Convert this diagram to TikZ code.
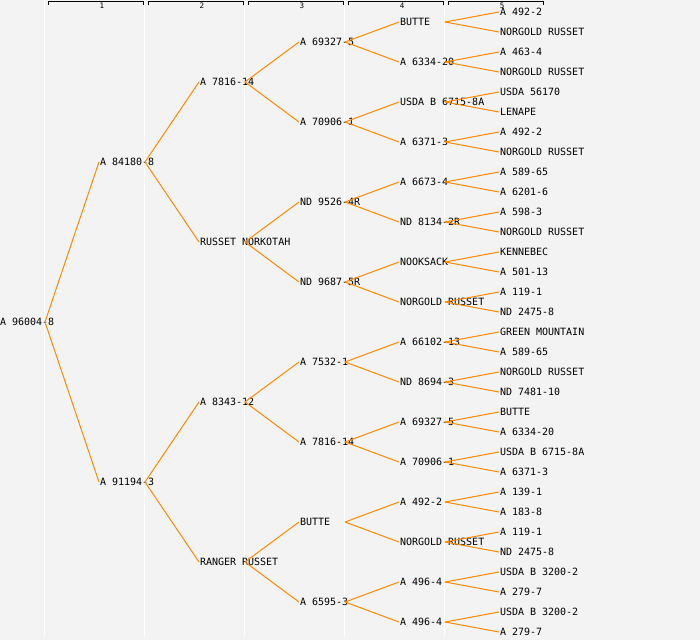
\documentclass[tikz,border=0pt]{standalone}
\usepackage{fontspec}
\newfontfamily\monofnt{DejaVu Sans Mono}
\definecolor{bgc}{RGB}{243,243,243}
\definecolor{linec}{RGB}{255,136,0}
\tikzset{
  lbl/.style={anchor=west, inner sep=0pt, outer sep=0pt, text height=7.3pt, text depth=0pt, font=\monofnt\fontsize{10}{10}\selectfont, text=black},
  conn/.style={draw=linec, line width=1pt},
  sepline/.style={draw=white, line width=1.2pt},
  bracket/.style={draw=black, line width=0.9pt},
  collbl/.style={inner sep=0pt, font=\monofnt\fontsize{7.5}{7.5}\selectfont, text=black}
}
\newcommand\pn[4]{\node[lbl] (#1) at ({#2*100},#3) {#4};\coordinate (#1o) at ({#2*100+45},#3);}
\begin{document}
\begin{tikzpicture}[x=1pt,y=-1pt]
\useasboundingbox (0,0) rectangle (700,640);
\fill[bgc] (0,0) rectangle (700,640);
% column separators
\foreach \c in {0,1,2,3,4} {\draw[sepline] ({\c*100+44.5},0) -- ({\c*100+44.5},637);}
% header brackets
\foreach \c in {1,2,3,4,5} {
  \draw[bracket] ({\c*100-52},4.5) -- ({\c*100-52},1.5) -- ({\c*100+43},1.5) -- ({\c*100+43},4.5);
  \node[collbl] (h\c) at ({\c*100+2},5.8) {\c};
}
% nodes
\pn{r}{0}{322}{A 96004-8}
\pn{r0}{1}{162}{A 84180-8}
\pn{r1}{1}{482}{A 91194-3}
\pn{r00}{2}{82}{A 7816-14}
\pn{r01}{2}{242}{RUSSET NORKOTAH}
\pn{r10}{2}{402}{A 8343-12}
\pn{r11}{2}{562}{RANGER RUSSET}
\pn{r000}{3}{42}{A 69327-5}
\pn{r001}{3}{122}{A 70906-1}
\pn{r010}{3}{202}{ND 9526-4R}
\pn{r011}{3}{282}{ND 9687-5R}
\pn{r100}{3}{362}{A 7532-1}
\pn{r101}{3}{442}{A 7816-14}
\pn{r110}{3}{522}{BUTTE}
\pn{r111}{3}{602}{A 6595-3}
\pn{r0000}{4}{22}{BUTTE}
\pn{r0001}{4}{62}{A 6334-20}
\pn{r0010}{4}{102}{USDA B 6715-8A}
\pn{r0011}{4}{142}{A 6371-3}
\pn{r0100}{4}{182}{A 6673-4}
\pn{r0101}{4}{222}{ND 8134-2R}
\pn{r0110}{4}{262}{NOOKSACK}
\pn{r0111}{4}{302}{NORGOLD RUSSET}
\pn{r1000}{4}{342}{A 66102-13}
\pn{r1001}{4}{382}{ND 8694-3}
\pn{r1010}{4}{422}{A 69327-5}
\pn{r1011}{4}{462}{A 70906-1}
\pn{r1100}{4}{502}{A 492-2}
\pn{r1101}{4}{542}{NORGOLD RUSSET}
\pn{r1110}{4}{582}{A 496-4}
\pn{r1111}{4}{622}{A 496-4}
\pn{r00000}{5}{12}{A 492-2}
\pn{r00001}{5}{32}{NORGOLD RUSSET}
\pn{r00010}{5}{52}{A 463-4}
\pn{r00011}{5}{72}{NORGOLD RUSSET}
\pn{r00100}{5}{92}{USDA 56170}
\pn{r00101}{5}{112}{LENAPE}
\pn{r00110}{5}{132}{A 492-2}
\pn{r00111}{5}{152}{NORGOLD RUSSET}
\pn{r01000}{5}{172}{A 589-65}
\pn{r01001}{5}{192}{A 6201-6}
\pn{r01010}{5}{212}{A 598-3}
\pn{r01011}{5}{232}{NORGOLD RUSSET}
\pn{r01100}{5}{252}{KENNEBEC}
\pn{r01101}{5}{272}{A 501-13}
\pn{r01110}{5}{292}{A 119-1}
\pn{r01111}{5}{312}{ND 2475-8}
\pn{r10000}{5}{332}{GREEN MOUNTAIN}
\pn{r10001}{5}{352}{A 589-65}
\pn{r10010}{5}{372}{NORGOLD RUSSET}
\pn{r10011}{5}{392}{ND 7481-10}
\pn{r10100}{5}{412}{BUTTE}
\pn{r10101}{5}{432}{A 6334-20}
\pn{r10110}{5}{452}{USDA B 6715-8A}
\pn{r10111}{5}{472}{A 6371-3}
\pn{r11000}{5}{492}{A 139-1}
\pn{r11001}{5}{512}{A 183-8}
\pn{r11010}{5}{532}{A 119-1}
\pn{r11011}{5}{552}{ND 2475-8}
\pn{r11100}{5}{572}{USDA B 3200-2}
\pn{r11101}{5}{592}{A 279-7}
\pn{r11110}{5}{612}{USDA B 3200-2}
\pn{r11111}{5}{632}{A 279-7}
% connectors
\foreach \p in {r,r0,r1,r00,r01,r10,r11,r000,r001,r010,r011,r100,r101,r110,r111,
  r0000,r0001,r0010,r0011,r0100,r0101,r0110,r0111,r1000,r1001,r1010,r1011,r1100,r1101,r1110,r1111} {
  \draw[conn] (\p o) -- ([xshift=-1pt]\p 0.west);
  \draw[conn] (\p o) -- ([xshift=-1pt]\p 1.west);
}
\end{tikzpicture}
\end{document}
